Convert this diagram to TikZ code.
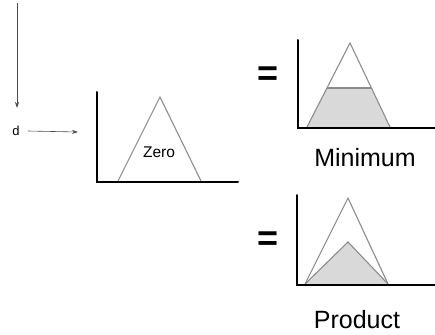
\documentclass[tikz,border=0pt]{standalone}
\usepackage{fontspec}
\setmainfont{Liberation Sans}
\usetikzlibrary{arrows.meta}
\begin{document}
\begin{tikzpicture}[x=1pt,y=-1pt,
  axis/.style={line width=2pt,black,line cap=round},
  tri/.style={line width=1.1pt,draw=black!45,line join=miter},
  shade/.style={fill=black!15,draw=black!45,line width=1.1pt},
  lbl/.style={inner sep=0pt,font=\fontsize{25}{25}\selectfont},
  eqs/.style={inner sep=0pt,font=\fontsize{36}{36}\selectfont\bfseries},
  arr/.style={line width=0.8pt,black!70,-{Stealth[length=6pt,width=4pt]}}]
\useasboundingbox (0,0) rectangle (435,334);
% input arrow and d
\coordinate (vtop) at (17,3);
\coordinate (vbot) at (17,108);
\draw[arr] (vtop) -- (vbot);
\node[inner sep=0pt,font=\fontsize{13}{13}\selectfont] (d) at (16,131) {d};
\coordinate (din) at (78,132);
\draw[arr,line width=0.6pt] ([xshift=8pt]d.east) -- (din);
% Zero set
\coordinate (zo) at (97,182);
\draw[axis] (97,92) -- (zo) -- (238,182);
\draw[tri] (118,181) -- (160,97) -- (201,181);
\node[inner sep=0pt,font=\fontsize{15.5}{15.5}\selectfont] (zero) at (159,152) {Zero};
% Minimum
\node[eqs] (eq1) at (268,76) {=};
\fill[black!15] (307,127) -- (327,88) -- (371,88) -- (390,127) -- cycle;
\draw[black!45,line width=1.1pt] (327,88) -- (371,88);
\draw[tri] (307,127) -- (350,43) -- (390,127);
\draw[axis] (298,40) -- (298,128) -- (435,128);
\node[lbl] (min) at (365,158) {Minimum};
% Product
\node[eqs] (eq2) at (268,241) {=};
\fill[black!15] (305,284) -- (348,242) -- (388,284) -- cycle;
\draw[tri] (305,284) -- (348,242) -- (388,284);
\draw[tri] (305,284) -- (348,198) -- (388,284);
\draw[axis] (297,195) -- (297,285) -- (435,285);
\node[lbl] (prod) at (357,320) {Product};
\end{tikzpicture}
\end{document}
